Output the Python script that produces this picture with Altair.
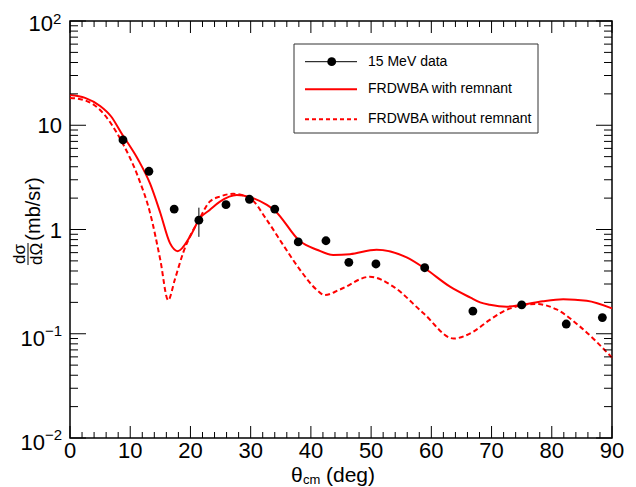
import altair as alt
import pandas as pd

FONT = "Liberation Sans"

# ---- measured data (15 MeV) ----
theta_data = [8.8, 13.1, 17.3, 21.4, 25.9, 29.8, 34.0, 37.9, 42.5, 46.3, 50.8, 58.9, 66.9, 75.0, 82.4, 88.4]
xsec_data = [7.22, 3.62, 1.57, 1.23, 1.73, 1.95, 1.57, 0.76, 0.78, 0.484, 0.467, 0.43, 0.165, 0.189, 0.124, 0.143]
err_low = [6.9, 3.45, 1.5, 0.85, 1.65, 1.86, 1.5, 0.725, 0.745, 0.462, 0.446, 0.41, 0.157, 0.18, 0.118, 0.136]
err_high = [7.55, 3.8, 1.65, 1.62, 1.81, 2.04, 1.65, 0.795, 0.815, 0.506, 0.488, 0.45, 0.173, 0.198, 0.13, 0.15]

# ---- FRDWBA with remnant ----
theta_rem = [0, 2.5, 5.0, 6.8, 8.6, 11.3, 13.3, 15.0, 16.6, 17.9, 19.9, 21.6, 23.2, 24.9, 27.7, 29.9,
             32.7, 34.1, 38.2, 41.0, 43.7, 46.5, 50.9, 55.9, 59.0, 63.1, 66.5, 68.1, 69.7, 72.5, 75.3,
             78.5, 81.9, 85.8, 90.0]
xsec_rem = [19.5, 18.3, 15.3, 12.2, 8.3, 4.7, 2.75, 1.44, 0.74, 0.62, 0.85, 1.29, 1.54, 1.85, 2.14, 2.04,
            1.72, 1.5, 0.77, 0.64, 0.57, 0.58, 0.64, 0.54, 0.42, 0.283, 0.222, 0.2, 0.19, 0.182, 0.191,
            0.205, 0.214, 0.207, 0.175]

# ---- FRDWBA without remnant ----
theta_norem = [0, 2.5, 5.0, 8.6, 11.3, 13.3, 15.0, 16.3, 17.4, 18.8, 21.6, 23.2, 24.9, 27.1, 29.9, 32.7,
               35.4, 38.2, 41.0, 42.3, 44.8, 49.8, 53.7, 58.7, 63.7, 67.0, 69.7, 73.1, 77.5, 80.8, 84.7, 90.0]
xsec_norem = [18.3, 17.3, 14.0, 6.95, 3.2, 1.44, 0.51, 0.21, 0.33, 0.6, 1.3, 1.85, 2.07, 2.2, 1.99, 1.23,
              0.71, 0.41, 0.263, 0.235, 0.265, 0.352, 0.283, 0.157, 0.09, 0.105, 0.136, 0.175, 0.193, 0.171,
              0.117, 0.059]

# ---- axis ticks and labels ----
x_major = [0, 10, 20, 30, 40, 50, 60, 70, 80, 90]
x_minor = [v for v in range(2, 90, 2) if v % 10 != 0]
y_major = [0.01, 0.1, 1, 10, 100]
y_minor = [m * d for d in [0.01, 0.1, 1, 10] for m in range(2, 10)]
ylab_plain_vals = [10, 1]
ylab_plain_text = ["10", "1"]
ylab_pos_vals = [100]
ylab_pos_exp = ["2"]
ylab_neg_vals = [0.1, 0.01]
ylab_neg_exp = ["\u22121", "\u22122"]
legend_labels = ["15 MeV data", "FRDWBA with remnant", "FRDWBA without remnant"]

W, H = 542, 417
xs = alt.Scale(domain=[0, 90], nice=False, zero=False)
ys = alt.Scale(type="log", domain=[0.01, 100], nice=False)

df_data = pd.DataFrame({"t": theta_data, "s": xsec_data, "lo": err_low, "hi": err_high})
df_rem = pd.DataFrame({"t": theta_rem, "s": xsec_rem})
df_norem = pd.DataFrame({"t": theta_norem, "s": xsec_norem})
one = pd.DataFrame({"a": [0]})

Xn = alt.X("t:Q", scale=xs, axis=None)
Y = alt.Y("s:Q", scale=ys, axis=None)

line_rem = alt.Chart(df_rem).mark_line(color="#ff0000", strokeWidth=2, interpolate="monotone").encode(x=Xn, y=Y)
line_norem = alt.Chart(df_norem).mark_line(color="#ff0000", strokeWidth=2, strokeDash=[5, 3],
                                           interpolate="monotone").encode(x=Xn, y=Y)
errbars = alt.Chart(df_data).mark_rule(color="black", strokeWidth=1).encode(
    x=Xn, y=alt.Y("lo:Q", scale=ys, axis=None), y2="hi:Q")
points = alt.Chart(df_data).mark_point(filled=True, color="black", size=78, opacity=1).encode(x=Xn, y=Y)

# ticks (inward, on all four sides)
dfxM = pd.DataFrame({"v": x_major})
dfxm = pd.DataFrame({"v": x_minor})
dfyM = pd.DataFrame({"v": y_major})
dfym = pd.DataFrame({"v": y_minor})
XV = alt.X("v:Q", scale=xs, axis=None)
YV = alt.Y("v:Q", scale=ys, axis=None)
tick_style = dict(color="black", strokeWidth=1)
ticks = [
    alt.Chart(dfxM).mark_rule(**tick_style).encode(x=XV, y=alt.value(H), y2=alt.value(H - 12)),
    alt.Chart(dfxm).mark_rule(**tick_style).encode(x=XV, y=alt.value(H), y2=alt.value(H - 6)),
    alt.Chart(dfxM).mark_rule(**tick_style).encode(x=XV, y=alt.value(0), y2=alt.value(12)),
    alt.Chart(dfxm).mark_rule(**tick_style).encode(x=XV, y=alt.value(0), y2=alt.value(6)),
    alt.Chart(dfyM).mark_rule(**tick_style).encode(y=YV, x=alt.value(0), x2=alt.value(16)),
    alt.Chart(dfym).mark_rule(**tick_style).encode(y=YV, x=alt.value(0), x2=alt.value(8)),
    alt.Chart(dfyM).mark_rule(**tick_style).encode(y=YV, x=alt.value(W), x2=alt.value(W - 16)),
    alt.Chart(dfym).mark_rule(**tick_style).encode(y=YV, x=alt.value(W), x2=alt.value(W - 8)),
]

# x tick labels
xlabels = alt.Chart(pd.DataFrame({"v": x_major, "txt": [str(v) for v in x_major]})).mark_text(
    align="center", baseline="alphabetic", fontSize=22, font=FONT, color="black"
).encode(x=XV, y=alt.value(H + 20), text="txt:N")


def ytext(vals, texts, xoff, align, size, dy):
    df = pd.DataFrame({"v": vals, "txt": texts})
    return alt.Chart(df).mark_text(align=align, baseline="middle", fontSize=size, font=FONT,
                                   dy=dy, color="black").encode(y=YV, x=alt.value(xoff), text="txt:N")


ylabels = [
    ytext(ylab_plain_vals, ylab_plain_text, -8, "right", 22, 1),
    ytext(ylab_pos_vals, ["10"] * len(ylab_pos_vals), -17, "right", 22, 3),
    ytext(ylab_pos_vals, ylab_pos_exp, -17, "left", 15, -2),
    ytext(ylab_neg_vals, ["10"] * len(ylab_neg_vals), -25, "right", 22, 5),
    ytext(ylab_neg_vals, ylab_neg_exp, -25, "left", 15, -3),
]


def label(text, x, y, size, align="left", baseline="alphabetic", angle=0):
    kw = dict(text=text, align=align, baseline=baseline, fontSize=size, font=FONT, color="black")
    if angle:
        kw["angle"] = angle
    return alt.Chart(one).mark_text(**kw).encode(x=alt.value(x), y=alt.value(y))


titles = [
    label("\u03b8", 221, 461, 21),
    label("cm", 233, 463, 13),
    label("(deg)", 256, 461, 21),
    label("(mb/sr)", -36, 188, 20, align="center", baseline="middle", angle=270),
    label("d\u03c3", -50, 233, 17, align="center", baseline="middle", angle=270),
    label("d\u03a9", -33, 233, 17, align="center", baseline="middle", angle=270),
    alt.Chart(one).mark_rule(color="black", strokeWidth=1).encode(
        x=alt.value(-42), y=alt.value(222), y2=alt.value(244)),
]

# legend
rows = [40.7, 68.3, 98.3]
legend = [
    alt.Chart(one).mark_rect(fill="white", stroke="#333333", strokeWidth=1).encode(
        x=alt.value(224), x2=alt.value(468), y=alt.value(23), y2=alt.value(112)),
    alt.Chart(one).mark_rule(color="black", strokeWidth=1).encode(
        x=alt.value(235), x2=alt.value(287), y=alt.value(rows[0])),
    alt.Chart(one).mark_point(filled=True, color="black", size=78, opacity=1).encode(
        x=alt.value(261.7), y=alt.value(rows[0])),
    alt.Chart(one).mark_rule(color="#ff0000", strokeWidth=2).encode(
        x=alt.value(235), x2=alt.value(287), y=alt.value(rows[1])),
    alt.Chart(one).mark_rule(color="#ff0000", strokeWidth=2, strokeDash=[4, 3]).encode(
        x=alt.value(235), x2=alt.value(287), y=alt.value(rows[2])),
]
for lab, r in zip(legend_labels, rows):
    legend.append(label(lab, 298, r, 14, baseline="middle"))

chart = alt.layer(
    line_rem, line_norem, errbars, points, *ticks, xlabels, *ylabels, *titles, *legend
).properties(
    width=W, height=H,
    autosize=alt.AutoSizeParams(type="none"),
    padding={"left": 70, "top": 21, "right": 24, "bottom": 49},
    background="white",
).configure_view(stroke="black", strokeWidth=1.5)

chart.save("out.html", embed_options={"renderer": "svg", "actions": False})
